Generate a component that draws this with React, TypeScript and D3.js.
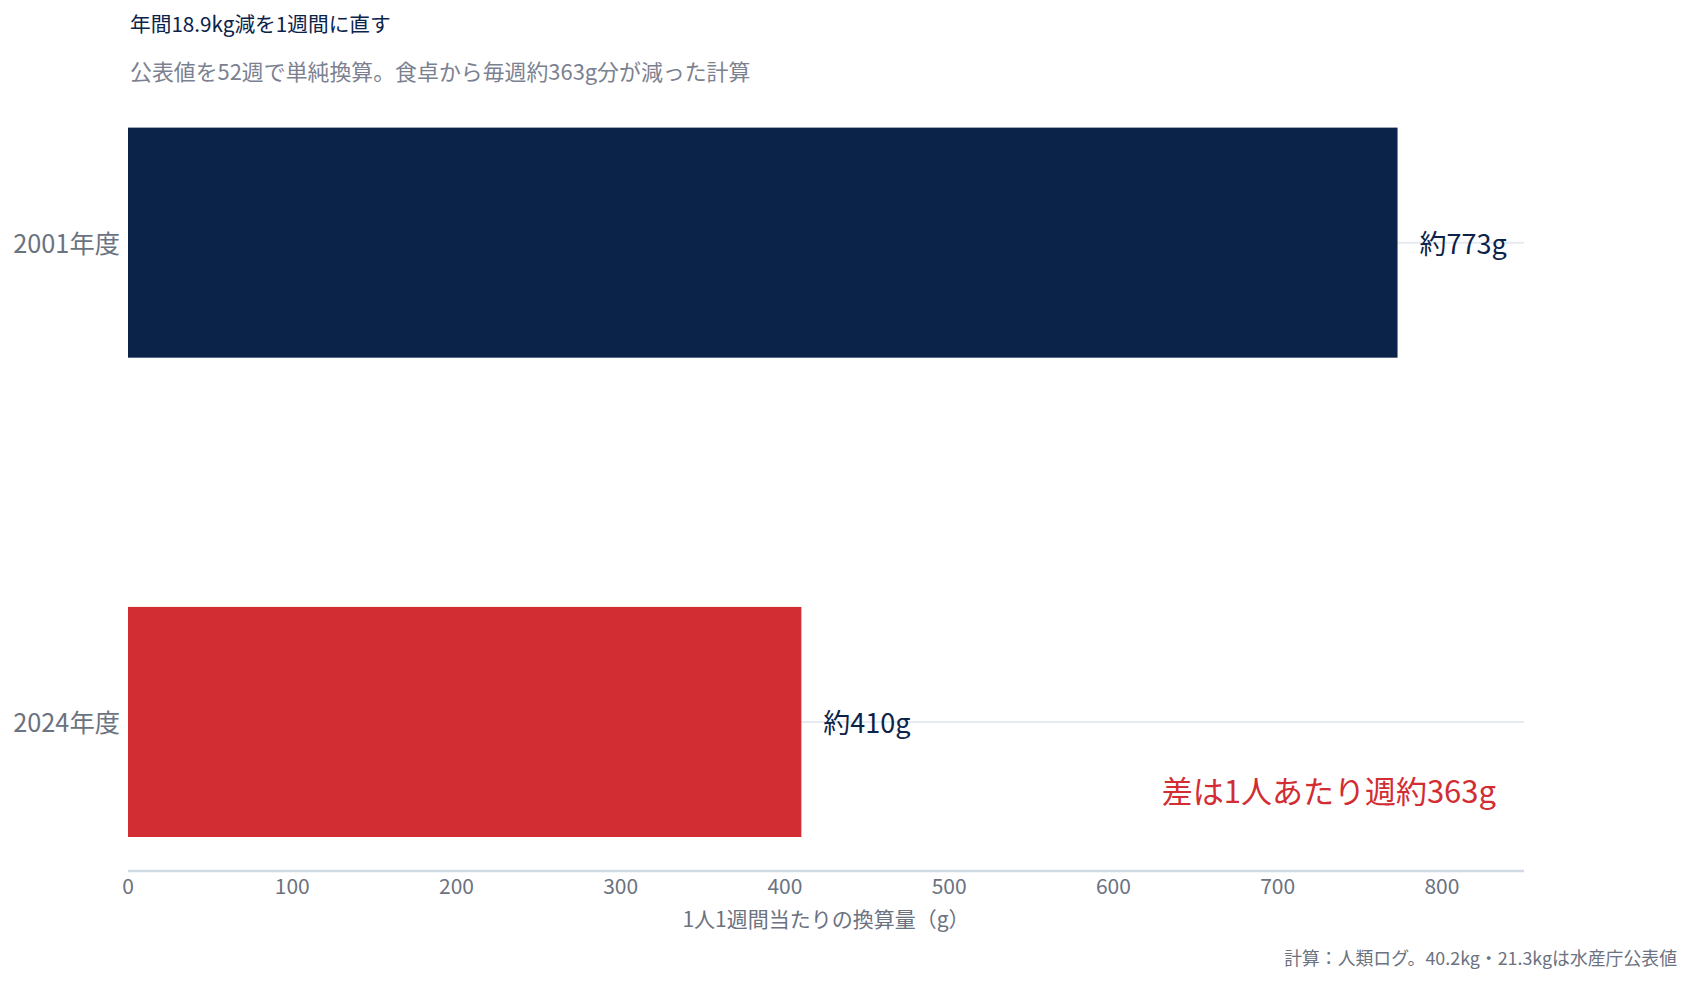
import React from "react";
import * as d3 from "d3";

const categories = ["2001年度", "2024年度"];
const values = [773, 410];
const valueLabels = ["約773g", "約410g"];
const barColors = ["#0c2349", "#d12d33"];
const xTicks = [0, 100, 200, 300, 400, 500, 600, 700, 800];
const xMax = 850;
const title = "年間18.9kg減を1週間に直す";
const subtitle = "公表値を52週で単純換算。食卓から毎週約363g分が減った計算";
const xAxisTitle = "1人1週間当たりの換算量（g）";
const annotation = "差は1人あたり週約363g";
const footer = "計算：人類ログ。40.2kg・21.3kgは水産庁公表値";

const W = 1691;
const H = 982;
const FONT = "'Noto Sans CJK JP', 'Noto Sans', sans-serif";

export default function App() {
  const left = 128;
  const right = 1524;
  const axisY = 871;
  const x = d3.scaleLinear().domain([0, xMax]).range([left, right]);
  const y = d3
    .scaleBand<string>()
    .domain(categories)
    .range([100, 864.6])
    .paddingInner(0.52)
    .paddingOuter(0.0576);
  const bw = y.bandwidth();

  return (
    <svg width={W} height={H} style={{ position: "absolute", left: 0, top: 0, background: "#fff" }} fontFamily={FONT}>
      <rect x={0} y={0} width={W} height={H} fill="#ffffff" />
      <text x={130} y={32} fontSize={20.7} fill="#0c2349">{title}</text>
      <text x={130} y={80} fontSize={21.9} fill="#7b8190">{subtitle}</text>

      {categories.map((c) => (
        <line key={"g" + c} x1={left} x2={right} y1={(y(c) ?? 0) + bw / 2} y2={(y(c) ?? 0) + bw / 2} stroke="#e6ebf2" strokeWidth={2} />
      ))}

      {categories.map((c, i) => (
        <rect key={"b" + c} x={x(0)} y={y(c)} width={x(values[i]) - x(0)} height={bw} fill={barColors[i]} />
      ))}

      {categories.map((c, i) => (
        <text key={"v" + c} x={x(values[i]) + 22} y={(y(c) ?? 0) + bw / 2} dominantBaseline="central" fontSize={27} fill="#0c2349">
          {valueLabels[i]}
        </text>
      ))}

      {categories.map((c) => (
        <text key={"c" + c} x={120} y={(y(c) ?? 0) + bw / 2 - 1} textAnchor="end" dominantBaseline="central" fontSize={25.3} fill="#6b7280">
          {c}
        </text>
      ))}

      <line x1={left} x2={right} y1={axisY} y2={axisY} stroke="#d0d9e4" strokeWidth={2.5} />
      {xTicks.map((t) => (
        <text key={"t" + t} x={x(t)} y={894} textAnchor="middle" fontSize={21} fill="#6b7280">
          {t}
        </text>
      ))}
      <text x={(left + right) / 2} y={927} textAnchor="middle" fontSize={21} fill="#6b7280">{xAxisTitle}</text>

      <text x={1496} y={789} textAnchor="end" dominantBaseline="central" fontSize={31} fill="#d12d33">{annotation}</text>

      <text x={1677} y={965} textAnchor="end" fontSize={17.85} fill="#6b7280">{footer}</text>
    </svg>
  );
}
